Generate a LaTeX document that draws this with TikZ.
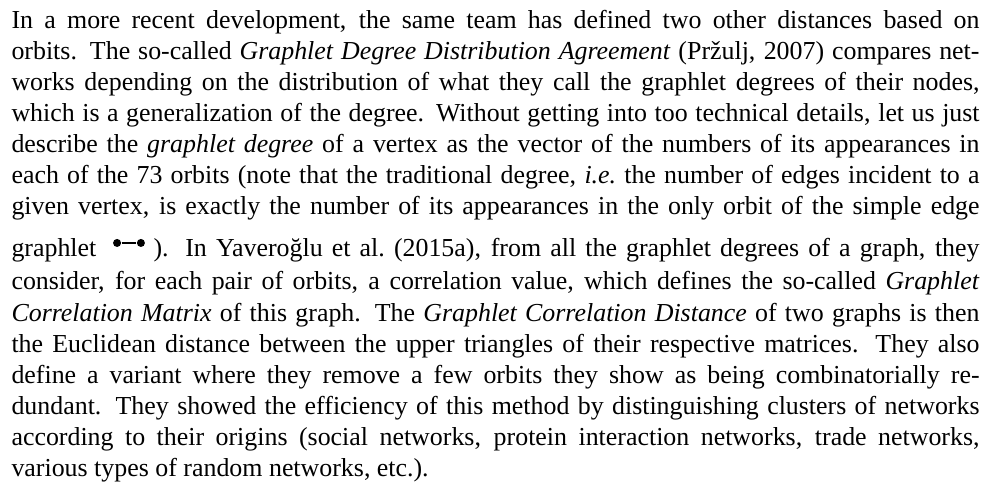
\documentclass[tikz,border=0pt]{standalone}
\usepackage{fontspec}
\setmainfont{Liberation Serif}
\newcommand\jline[2][373.75pt]{\makebox[#1][s]{#2}}
\tikzset{
  txtline/.style={anchor=base west, inner sep=0pt, font=\fontsize{10pt}{12pt}\selectfont},
  gdot/.style={circle, fill=black, draw=none, inner sep=0pt, minimum size=3.1pt},
  gedge/.style={line width=0.45pt, black}
}
\begin{document}
\begin{tikzpicture}[x=1pt,y=1pt]
\useasboundingbox (0,0) rectangle (379.15,-188.03);
\node[txtline] (l1) at (4.25,-11.0) {\jline{In a more recent development, the same team has defined two other distances based on}};
\node[txtline] (l2) at (4.25,-23.0) {\jline{orbits. The so-called \textit{Graphlet Degree Distribution Agreement} (Pržulj, 2007) compares net-}};
\node[txtline] (l3) at (4.25,-35.0) {\jline{works depending on the distribution of what they call the graphlet degrees of their nodes,}};
\node[txtline] (l4) at (4.25,-47.0) {\jline{which is a generalization of the degree. Without getting into too technical details, let us just}};
\node[txtline] (l5) at (4.25,-59.0) {\jline{describe the \textit{graphlet degree} of a vertex as the vector of the numbers of its appearances in}};
\node[txtline] (l6) at (4.25,-71.0) {\jline{each of the 73 orbits (note that the traditional degree, \textit{i.e.}\ the number of edges incident to a}};
\node[txtline] (l7) at (4.25,-83.0) {\jline{given vertex, is exactly the number of its appearances in the only orbit of the simple edge}};
\node[txtline] (l8a) at (4.25,-98.85) {graphlet};
\node[gdot] (u) at (45.2,-93.8) {};
\node[gdot] (v) at (54.4,-93.8) {};
\draw[gedge] (u) -- (v);
\node[txtline] (l8b) at (59.1,-98.85) {\jline[318.9pt]{). In Yaveroğlu et al.\ (2015a), from all the graphlet degrees of a graph, they}};
\node[txtline] (l9) at (4.25,-111.95) {\jline{consider, for each pair of orbits, a correlation value, which defines the so-called \textit{Graphlet}}};
\node[txtline] (l10) at (4.25,-123.95) {\jline{\textit{Correlation Matrix} of this graph. The \textit{Graphlet Correlation Distance} of two graphs is then}};
\node[txtline] (l11) at (4.25,-135.95) {\jline{the Euclidean distance between the upper triangles of their respective matrices. They also}};
\node[txtline] (l12) at (4.25,-147.95) {\jline{define a variant where they remove a few orbits they show as being combinatorially re-}};
\node[txtline] (l13) at (4.25,-159.95) {\jline{dundant. They showed the efficiency of this method by distinguishing clusters of networks}};
\node[txtline] (l14) at (4.25,-171.95) {\jline{according to their origins (social networks, protein interaction networks, trade networks,}};
\node[txtline] (l15) at (4.25,-183.95) {various types of random networks, etc.).};
\end{tikzpicture}
\end{document}
